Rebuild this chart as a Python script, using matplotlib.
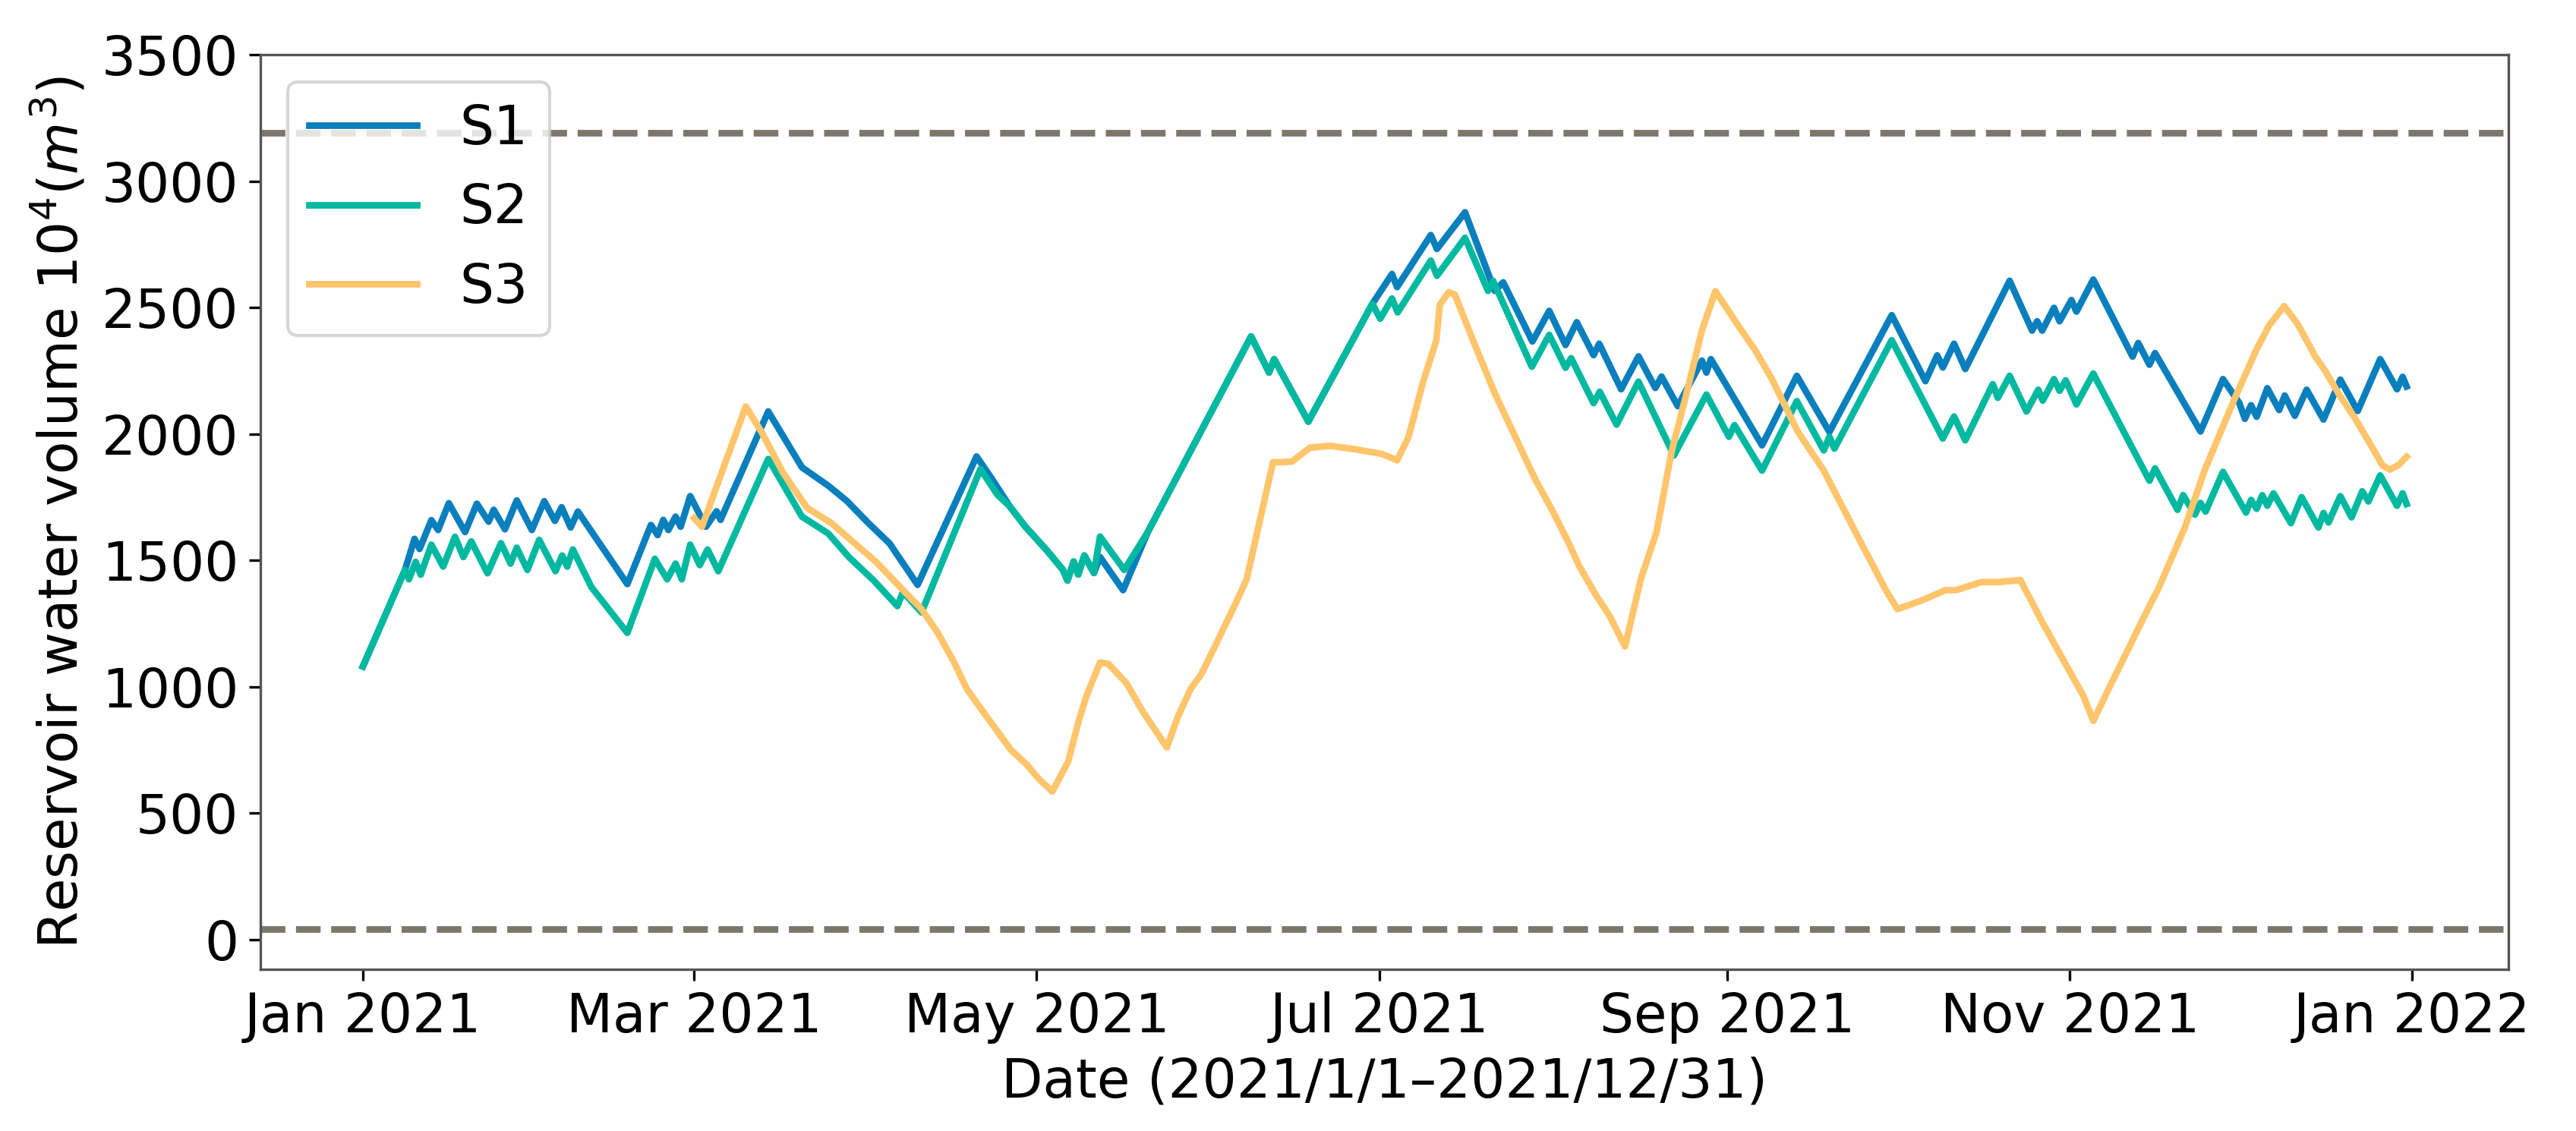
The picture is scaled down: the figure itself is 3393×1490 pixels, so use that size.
import numpy as np
import pandas as pd
import matplotlib
matplotlib.use('Agg')
import matplotlib.pyplot as plt
import matplotlib.dates as mdates

# day offsets from 2021-01-01 and reservoir volume (10^4 m^3)
s1_days = [0, 7.5, 9.2, 10.1, 12.2, 13.4, 15.3, 18.2, 20.3, 22.4, 23.3, 25.3, 27.4, 30.1,
           32.3, 34.2, 35.4, 37, 38.3, 47.1, 51.3, 52.5, 53.5, 54.4, 55.7, 56.6, 58.3,
           61.1, 63, 63.7, 72.2, 78.2, 82.9, 86.2, 90, 93.8, 98.8, 109.3, 111.8, 115.2,
           118, 121.8, 124.7, 125.5, 126.6, 127.4, 128.5, 130.2, 131.3, 135.4, 139.8,
           158.2, 161.4, 162.3, 168.4, 179.8, 183.3, 184.2, 190.2, 191.3, 196.3, 201.6,
           203.1, 208.3, 211.3, 214.2, 216.2, 219.2, 220.2, 224.1, 227.2, 230.2, 231.3,
           234.2, 238.5, 239.3, 240.1, 249.2, 255.4, 261.2, 272.3, 278.3, 280.4, 281.4,
           283.4, 285.4, 293.3, 297.3, 298.2, 299.1, 301.2, 302.2, 304.3, 305.2, 308.2,
           315.2, 316.2, 318.2, 319.2, 327.3, 331.3, 334.2, 335.2, 336.3, 337.3, 339.2,
           341.3, 342.3, 344.1, 346.2, 349.2, 352.2, 355.3, 359.3, 362.3, 363.3, 364]
s1_vals = [1080, 1462, 1585, 1545, 1659, 1620, 1726, 1612, 1724, 1653, 1700, 1623, 1737, 1620,
           1734, 1656, 1710, 1630, 1693, 1406, 1640, 1600, 1660, 1620, 1673, 1633, 1754,
           1633, 1694, 1660, 2089, 1868, 1795, 1735, 1648, 1567, 1403, 1911, 1830, 1714,
           1633, 1540, 1462, 1420, 1495, 1444, 1519, 1450, 1513, 1382, 1612,
           2386, 2243, 2296, 2049, 2515, 2633, 2581, 2787, 2732, 2877, 2566,
           2600, 2366, 2487, 2352, 2442, 2312, 2357, 2177, 2307, 2182, 2227,
           2110, 2290, 2243, 2296, 1955, 2230, 2008, 2470, 2209, 2311, 2263,
           2357, 2257, 2606, 2409, 2446, 2409, 2499, 2446, 2530, 2484, 2611,
           2306, 2360, 2274, 2320, 2010, 2217, 2123, 2060, 2114, 2068, 2181,
           2095, 2152, 2072, 2175, 2057, 2215, 2091, 2296, 2177, 2226, 2188]

s2_days = [0, 7.5, 8.2, 9.4, 10.3, 12.2, 14.3, 16.4, 17.9, 19.3, 22.2, 24.6, 26.3, 27.4,
           29.3, 31.4, 34.3, 35.5, 36.4, 37.4, 40.7, 47.1, 52, 54.2, 55.7, 56.8, 58.3,
           60, 61.4, 63.3, 72.2, 78.2, 82.9, 86.6, 91, 95.2, 96.2, 99.5, 110, 113,
           115.2, 118, 121.8, 124.7, 125.5, 126.6, 127.4, 128.5, 130.2, 131.3, 135.6,
           139.8, 158.2, 161.4, 162.3, 168.4, 179.8, 181.2, 183.3, 184.3, 190.2, 191.3,
           196.3, 200.4, 201.3, 208.2, 211.3, 214.2, 215.2, 219.2, 220.3, 223.3, 227.2,
           233.5, 239.3, 243.3, 244.3, 249.2, 255.4, 260.2, 261.2, 262.1, 272.3, 281.4,
           283.4, 285.4, 290.3, 291.2, 293.3, 296.3, 298.4, 299.2, 301.2, 302.2, 303.3,
           305.2, 308.2, 318.2, 319.2, 323.2, 324.2, 326.3, 327.3, 328.2, 331.3, 335.4,
           336.3, 337.3, 338.3, 339.2, 340.3, 343.4, 345.3, 348.3, 349.2, 350.1, 352.2,
           354.2, 356.1, 357.2, 359.3, 362.3, 363.3, 364]
s2_vals = [1080, 1462, 1425, 1494, 1443, 1562, 1475, 1593, 1513, 1575, 1449, 1568, 1487, 1550,
           1462, 1581, 1457, 1519, 1475, 1543, 1394, 1213, 1506, 1425, 1487, 1425, 1562,
           1481, 1543, 1457, 1901, 1673, 1606, 1512, 1420, 1319, 1375, 1294, 1861, 1760,
           1714, 1633, 1540, 1462, 1420, 1495, 1444, 1519, 1450, 1594, 1462,
           1612, 2386, 2243, 2296, 2049, 2515, 2456, 2536, 2481, 2686, 2626,
           2776, 2566, 2606, 2266, 2392, 2262, 2300, 2122, 2167, 2037, 2207,
           1915, 2156, 1989, 2035, 1855, 2130, 1935, 1989, 1942, 2371, 1982,
           2069, 1975, 2197, 2143, 2230, 2089, 2175, 2132, 2217, 2171, 2212,
           2117, 2239, 1815, 1864, 1700, 1758, 1681, 1727, 1693, 1850, 1689,
           1739, 1704, 1758, 1716, 1765, 1647, 1750, 1630, 1687, 1650, 1754,
           1670, 1773, 1733, 1836, 1716, 1765, 1723]

s3_days = [59, 60.4, 68.2, 71, 74.8, 79.1, 83.4, 87.6, 91.4, 95.7, 99.5, 102.4, 105.2, 107.6,
           110.5, 112.8, 115.4, 118.2, 120.4, 122.8, 125.6, 127.5, 128.9, 131.3, 132.8,
           136, 138.9, 143.2, 145.1, 147.4, 149.4, 153.2, 155.5, 157.4, 162.1, 163.5,
           165.5, 168.7, 172.3, 176.3, 181.5, 184.2, 186.2, 188.9, 191.2, 191.8, 193.4,
           194.5, 197.9, 201.6, 205.2, 208.8, 212, 214.8, 216.7, 219.6, 222, 224.8, 227.6,
           230.4, 233.1, 235.7, 238.5, 240.9, 245.1, 248, 250.8, 255.6, 260.2, 263.8,
           267.5, 268.8, 271.1, 273.3, 277.4, 281.9, 283.7, 288.3, 291.4, 295.2, 297.1,
           299.1, 300.7, 302.7, 306.4, 308.2, 310.9, 314.5, 317.2, 319.8, 324.5, 328.1,
           333.3, 337.2, 339.5, 342.2, 344.6, 347.7, 349.5, 351.9, 355, 357.6, 359.7,
           361, 362.5, 364]
s3_vals = [1667, 1633, 2109, 2008, 1848, 1708, 1648, 1567, 1494, 1394, 1307, 1213, 1101, 990,
           900, 830, 750, 693, 635, 585, 703, 865, 965, 1096, 1090,
           1014, 902, 760, 878, 990, 1052, 1226, 1332, 1425, 1888, 1888,
           1891, 1946, 1953, 1941, 1921, 1896, 1986, 2211, 2371, 2511, 2561,
           2551, 2361, 2161, 1991, 1821, 1691, 1567, 1475, 1363, 1282, 1159, 1425,
           1611, 1931, 2156, 2410, 2565, 2424, 2331, 2224, 2008, 1855, 1700,
           1540, 1487, 1388, 1307, 1339, 1382, 1382, 1414, 1414, 1422, 1342,
           1256, 1192, 1112, 965, 865, 990, 1152, 1275, 1388, 1630, 1860,
           2136, 2331, 2429, 2506, 2435, 2308, 2250, 2159, 2055, 1957, 1876,
           1859, 1876, 1910]

upper_limit = 3190
lower_limit = 40

series_names = ['S1', 'S2', 'S3']
series_colors = ['#0A7FBD', '#00B9A0', '#FFC56C']

start = pd.Timestamp('2021-01-01')


def to_dates(days):
    return start + pd.to_timedelta(np.array(days), unit='D')


fig = plt.figure(figsize=(3393 / 300, 1490 / 300), dpi=300)
ax = fig.add_axes([0.1012, 0.143, 0.8727, 0.8085])

ax.plot(to_dates(s1_days), s1_vals, color=series_colors[0], lw=2.1, label=series_names[0])
ax.plot(to_dates(s2_days), s2_vals, color=series_colors[1], lw=2.1, label=series_names[1])
ax.plot(to_dates(s3_days), s3_vals, color=series_colors[2], lw=2.1, label=series_names[2])

ax.axhline(upper_limit, color='#7D776B', lw=2.1, ls='--')
ax.axhline(lower_limit, color='#7D776B', lw=2.1, ls='--')

ax.set_xlim(start - pd.Timedelta(days=18.2), start + pd.Timedelta(days=382.2))
ax.set_ylim(-118, 3500)

ax.xaxis.set_major_locator(mdates.MonthLocator(bymonth=[1, 3, 5, 7, 9, 11]))
ax.xaxis.set_major_formatter(mdates.DateFormatter('%b %Y'))
ax.set_yticks(np.arange(0, 3501, 500))

ax.tick_params(labelsize=17, length=3.5, width=0.8)
for sp in ax.spines.values():
    sp.set_color('#555555')
    sp.set_linewidth(0.8)

ax.set_xlabel('Date (2021/1/1\u20132021/12/31)', fontsize=17)
ax.set_ylabel('Reservoir water volume $10^4(m^3)$', fontsize=17)

ax.legend(loc='upper left', fontsize=17)

fig.savefig('out.png', dpi=300)
